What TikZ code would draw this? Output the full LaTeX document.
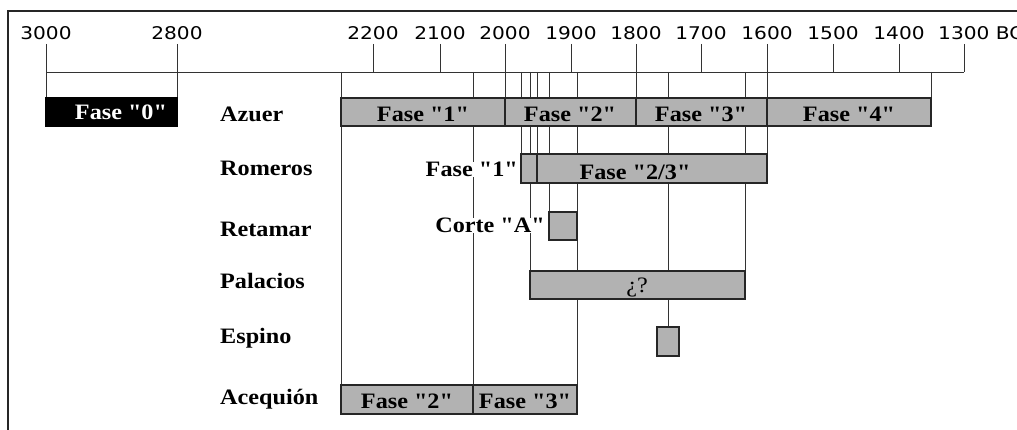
\documentclass[tikz,border=0pt]{standalone}
\usepackage{fontspec}
\newfontfamily\tnr{Liberation Serif}
\newfontfamily\axisfont{DejaVu Sans}
\usepackage{graphicx}
\newcommand{\wx}[1]{\scalebox{1.1}[1]{#1}}
\newcommand{\wy}[1]{\scalebox{1.15}[1]{#1}}
\begin{document}
\begin{tikzpicture}[x=1pt,y=-1pt,
  ln/.style={draw=black!80, line width=0.9pt},
  bar/.style={draw=black!85, line width=1.2pt, fill=gray!60},
  yr/.style={font=\axisfont\fontsize{17.5}{20}\selectfont, anchor=base, inner sep=0pt},
  site/.style={font=\tnr\bfseries\fontsize{22}{24}\selectfont, anchor=base west, inner sep=0pt},
  lab/.style={font=\tnr\bfseries\fontsize{22}{24}\selectfont, anchor=base, inner sep=0pt},
  tag/.style={lab, anchor=base east, fill=white, inner xsep=1pt},
]
\useasboundingbox (0,0) rectangle (1017,430);
% frame
\draw[line width=1.3pt, black!85] (8,430) -- (8,11) -- (1017,11);
% axis
\draw[ln] (46,72) -- (964,72);
% ticks and long verticals
\foreach \x/\a/\b in {46/44/98, 177/44/98, 341/72/385, 373/44/72, 440/44/72,
  473/72/385, 505/44/98, 521/72/154, 530/72/271, 537/72/154, 549/72/212,
  571/44/72, 577/72/385, 636/44/98, 668/72/327, 701/44/72, 745/72/271,
  767/44/154, 833/44/72, 899/44/72, 931/72/98, 964/44/72}
  \draw[ln] (\x,\a) -- (\x,\b);
% year labels
\node[yr] (y3000) at (46,40) {\wy{3000}};
\node[yr] (y2800) at (177,40) {\wy{2800}};
\node[yr] (y2200) at (373,40) {\wy{2200}};
\node[yr] (y2100) at (440,40) {\wy{2100}};
\node[yr] (y2000) at (505,40) {\wy{2000}};
\node[yr] (y1900) at (571,40) {\wy{1900}};
\node[yr] (y1800) at (636,40) {\wy{1800}};
\node[yr] (y1700) at (701,40) {\wy{1700}};
\node[yr] (y1600) at (767,40) {\wy{1600}};
\node[yr] (y1500) at (833,40) {\wy{1500}};
\node[yr] (y1400) at (899,40) {\wy{1400}};
\node[yr, anchor=base west] (y1300) at (938,40) {\wy{1300 BC}};
% bars
\filldraw[draw=black, fill=black, line width=1.2pt] (46,98) rectangle (177,126);
\filldraw[bar] (341,98) rectangle (505,126);
\filldraw[bar] (505,98) rectangle (636,126);
\filldraw[bar] (636,98) rectangle (767,126);
\filldraw[bar] (767,98) rectangle (931,126);
\filldraw[bar] (521,154) rectangle (537,183);
\filldraw[bar] (537,154) rectangle (767,183);
\filldraw[bar] (549,212) rectangle (577,240);
\filldraw[bar] (530,271) rectangle (745,299);
\filldraw[bar] (657,327) rectangle (679,356);
\filldraw[bar] (341,385) rectangle (473,414);
\filldraw[bar] (473,385) rectangle (577,414);
% bar labels
\node[lab, text=white] (f0) at (121,120) {\wx{Fase "0"}};
\node[lab] (az1) at (423,122) {\wx{Fase "1"}};
\node[lab] (az2) at (570,122) {\wx{Fase "2"}};
\node[lab] (az3) at (701,122) {\wx{Fase "3"}};
\node[lab] (az4) at (849,122) {\wx{Fase "4"}};
\node[tag] (ro1) at (519,177) {\wx{Fase "1"}};
\node[lab] (ro23) at (635,180) {\wx{Fase "2/3"}};
\node[tag] (reA) at (546,233) {\wx{Corte "A"}};
\node[lab, font=\tnr\fontsize{22}{24}\selectfont] (pa) at (637,292) {\wx{¿?}};
\node[lab] (ac2) at (407,408) {\wx{Fase "2"}};
\node[lab] (ac3) at (525,408) {\wx{Fase "3"}};
% site labels
\node[site] (azuer) at (220,122) {\wx{Azuer}};
\node[site] (romeros) at (220,176) {\wx{Romeros}};
\node[site] (retamar) at (220,237) {\wx{Retamar}};
\node[site] (palacios) at (220,288) {\wx{Palacios}};
\node[site] (espino) at (220,343) {\wx{Espino}};
\node[site] (acequion) at (220,404) {\wx{Acequión}};
\end{tikzpicture}
\end{document}
